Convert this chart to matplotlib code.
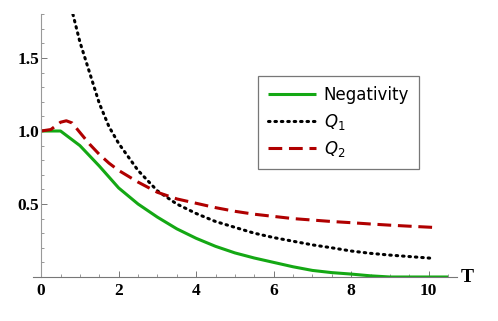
import numpy as np
import matplotlib
matplotlib.use("Agg")
import matplotlib.pyplot as plt
from matplotlib.ticker import MultipleLocator, FixedLocator

# Data
t_neg = [0, 0.5, 1.0, 1.5, 2.0, 2.5, 3.0, 3.5, 4.0, 4.5, 5.0, 5.5, 6.0, 6.5, 7.0, 7.5, 8.0, 8.5, 9.0, 9.5, 10.0, 10.5]
negativity = [1.0, 1.0, 0.9, 0.76, 0.61, 0.5, 0.41, 0.33, 0.265, 0.21, 0.165, 0.13, 0.1, 0.07, 0.045, 0.03, 0.02, 0.008, 0.0, 0.0, 0.0, 0.0]

t_q1 = [0.82, 1.0, 1.25, 1.5, 1.75, 2.0, 2.5, 3.0, 3.5, 4.0, 4.5, 5.0, 5.5, 6.0, 6.5, 7.0, 7.5, 8.0, 8.5, 9.0, 9.5, 10.1]
q1 = [1.8, 1.61, 1.40, 1.19, 1.03, 0.915, 0.73, 0.59, 0.5, 0.435, 0.38, 0.34, 0.30, 0.27, 0.245, 0.22, 0.20, 0.178, 0.162, 0.15, 0.14, 0.128]

t_q2 = [0, 0.25, 0.5, 0.65, 0.8, 1.0, 1.25, 1.5, 1.75, 2.0, 2.5, 3.0, 3.5, 4.0, 4.5, 5.0, 5.5, 6.0, 6.5, 7.0, 7.5, 8.0, 8.5, 9.0, 9.5, 10.1]
q2 = [1.0, 1.01, 1.06, 1.07, 1.055, 0.99, 0.91, 0.84, 0.78, 0.73, 0.65, 0.58, 0.535, 0.505, 0.475, 0.45, 0.43, 0.415, 0.40, 0.39, 0.38, 0.372, 0.363, 0.355, 0.348, 0.34]

x_ticks = [0, 2, 4, 6, 8, 10]
y_ticks = [0.5, 1.0, 1.5]

W, H = 498, 321
fig = plt.figure(figsize=(W / 100, H / 100), dpi=100)
x_left_px, x_right_px = 33, 457
y_bot_px, y_top_px = 277, 14.2
ax = fig.add_axes([x_left_px / W, 1 - y_bot_px / H, (x_right_px - x_left_px) / W, (y_bot_px - y_top_px) / H])
ax.set_xlim(-0.21, 10.73)
ax.set_ylim(0, 1.8)

ax.plot(t_neg, negativity, color='#14a814', lw=2.2, label='Negativity', solid_capstyle='butt')
ax.plot(t_q1, q1, color='black', lw=2.2, linestyle=(0, (0.5, 1.6)), dash_capstyle='round', label='$Q_1$')
ax.plot(t_q2, q2, color='#b00000', lw=2.2, linestyle=(0, (4.5, 2.2)), label='$Q_2$')

for s in ['top', 'right']:
    ax.spines[s].set_visible(False)
ax.spines['left'].set_position(('data', 0))
ax.spines['left'].set_color('#999999')
ax.spines['bottom'].set_color('#777777')
ax.spines['left'].set_linewidth(0.8)
ax.spines['bottom'].set_linewidth(0.8)

ax.xaxis.set_major_locator(FixedLocator(x_ticks))
ax.xaxis.set_minor_locator(MultipleLocator(0.5))
ax.yaxis.set_major_locator(FixedLocator(y_ticks))
ax.yaxis.set_minor_locator(MultipleLocator(0.1))
ax.tick_params(which='major', direction='in', length=4, width=0.7, color='#777777')
ax.tick_params(which='minor', direction='in', length=2.5, width=0.6, color='#888888')
ax.tick_params(axis='x', pad=4)
ax.tick_params(axis='y', pad=1.5)

ax.set_xticklabels([str(v) for v in x_ticks])
ax.set_yticklabels([f"{v:.1f}" for v in y_ticks])
for lab in ax.get_xticklabels() + ax.get_yticklabels():
    lab.set_fontfamily('Liberation Serif')
    lab.set_fontweight('bold')
    lab.set_fontsize(12.5)

fig.text(467 / W, 1 - 277 / H, 'T', fontfamily='Liberation Serif', fontweight='bold',
         fontsize=14, ha='center', va='center')

leg = ax.legend(loc='upper left', bbox_to_anchor=(258 / W, 1 - 76 / H), bbox_transform=fig.transFigure,
                fontsize=12, handlelength=2.9, handletextpad=0.45, labelspacing=0.45, borderpad=0.6,
                fancybox=False, framealpha=1, edgecolor='#777777', borderaxespad=0)
leg.get_frame().set_linewidth(0.9)

fig.savefig('out.png', dpi=100)
